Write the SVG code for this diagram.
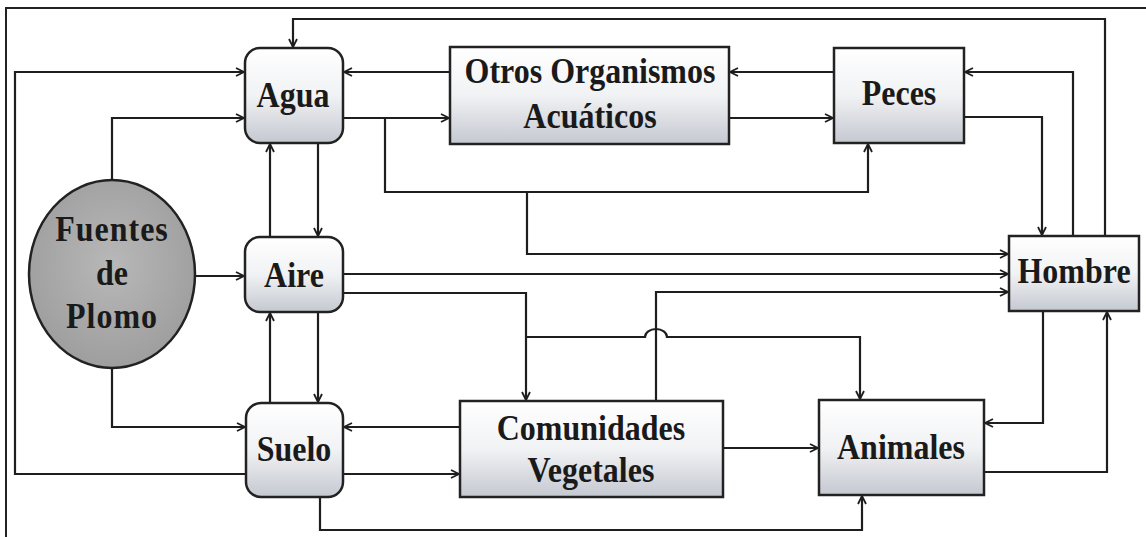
<svg xmlns="http://www.w3.org/2000/svg" width="1146" height="537" viewBox="0 0 1146 537">
<style>
.box{fill:url(#gBox);stroke:#222;stroke-width:2.5}
.t{font-family:'Liberation Serif','Times New Roman',serif;font-weight:bold;font-size:32px;fill:#1a1a1a;text-anchor:middle}
</style>
<defs>
<linearGradient id="gBox" x1="0" y1="0" x2="0" y2="1">
<stop offset="0" stop-color="#ffffff"/>
<stop offset="0.5" stop-color="#f1f2f4"/>
<stop offset="1" stop-color="#c4c8d0"/>
</linearGradient>
<radialGradient id="gEll" cx="0.5" cy="0.45" r="0.6">
<stop offset="0" stop-color="#b8b8b8"/>
<stop offset="1" stop-color="#9c9c9c"/>
</radialGradient>
<marker id="arr" viewBox="0 0 10 10" refX="9" refY="5" markerWidth="10" markerHeight="10" markerUnits="userSpaceOnUse" orient="auto">
<path d="M1,1 L9,5 L1,9" fill="none" stroke="#1e1e1e" stroke-width="1.8"/>
</marker>
</defs>
<rect width="1146" height="537" fill="#ffffff"/>
<path d="M6,537 V8 H1146" fill="none" stroke="#222" stroke-width="2"/>
<g id="connectors" fill="none" stroke="#1e1e1e" stroke-width="2.2" marker-end="url(#arr)">
<path d="M1105,236 V19 H293 V47"/>
<path d="M246,474 H15 V72 H244"/>
<path d="M112,180 V118 H244"/>
<path d="M450,72 H344"/>
<path d="M343,118 H449"/>
<path d="M385,118 V192 H868 V144"/>
<path d="M527,192 V254 H1008"/>
<path d="M834,72 H730"/>
<path d="M729,118 H833"/>
<path d="M1073,236 V72 H965"/>
<path d="M964,117 H1042 V235"/>
<path d="M270,237 V144"/>
<path d="M318,143 V236"/>
<path d="M195,276 H244"/>
<path d="M343,274 H1008"/>
<path d="M343,293 H526 V400"/>
<path d="M526,337 H645 A11,8 0 0 1 667,337 H860 V399"/>
<path d="M656,401 V292 H1008"/>
<path d="M270,403 V313"/>
<path d="M318,312 V402"/>
<path d="M112,368 V427 H245"/>
<path d="M460,427 H344"/>
<path d="M343,474 H459"/>
<path d="M723,448 H818"/>
<path d="M320,497 V530 H862 V496"/>
<path d="M1043,311 V423 H985"/>
<path d="M984,472 H1107 V312"/>
</g>
<g id="fuentes">
<ellipse cx="112" cy="274" rx="83" ry="94" fill="url(#gEll)" stroke="#222" stroke-width="2.5"/>
<text class="t" transform="translate(112,241) scale(1,1.12)" letter-spacing="1">Fuentes</text>
<text class="t" transform="translate(112,285) scale(1,1.12)">de</text>
<text class="t" transform="translate(112,328) scale(1,1.12)" letter-spacing="1">Plomo</text>
</g>
<g id="agua">
<rect class="box" x="245" y="48" width="98" height="95" rx="15"/>
<text class="t" transform="translate(293,107) scale(1,1.12)">Agua</text>
</g>
<g id="aire">
<rect class="box" x="245" y="237" width="98" height="75" rx="15"/>
<text class="t" transform="translate(294,287) scale(1,1.12)">Aire</text>
</g>
<g id="suelo">
<rect class="box" x="246" y="403" width="97" height="94" rx="15"/>
<text class="t" transform="translate(294,461) scale(1,1.12)">Suelo</text>
</g>
<g id="otros">
<rect class="box" x="450" y="47" width="279" height="97"/>
<text class="t" transform="translate(590,83) scale(1,1.12)">Otros Organismos</text>
<text class="t" transform="translate(590,128) scale(1,1.12)">Acuáticos</text>
</g>
<g id="peces">
<rect class="box" x="834" y="48" width="130" height="95"/>
<text class="t" transform="translate(899,105) scale(1,1.12)">Peces</text>
</g>
<g id="hombre">
<rect class="box" x="1009" y="236" width="130" height="75"/>
<text class="t" transform="translate(1074,283) scale(1,1.12)">Hombre</text>
</g>
<g id="comunidades">
<rect class="box" x="460" y="401" width="263" height="96"/>
<text class="t" transform="translate(591,440) scale(1,1.12)">Comunidades</text>
<text class="t" transform="translate(591,482) scale(1,1.12)">Vegetales</text>
</g>
<g id="animales">
<rect class="box" x="819" y="400" width="165" height="95"/>
<text class="t" transform="translate(901,459) scale(1,1.12)">Animales</text>
</g>
</svg>
